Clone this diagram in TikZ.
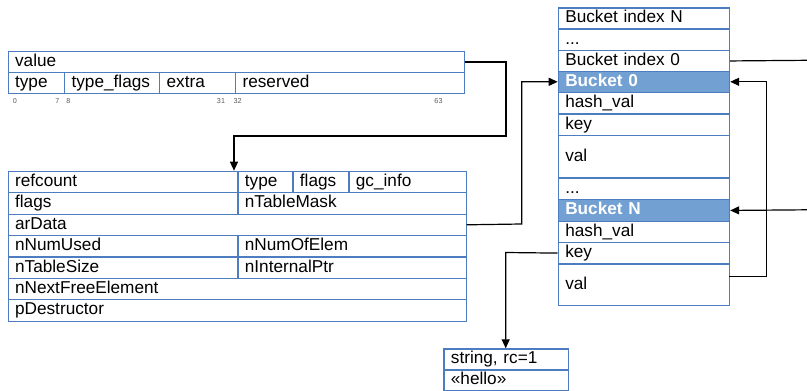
\documentclass[tikz,border=0pt]{standalone}
\usepackage{fontspec}
\setmainfont{Liberation Sans}
\usetikzlibrary{arrows.meta,calc}
\definecolor{cellblue}{RGB}{78,124,192}
\definecolor{cellfill}{RGB}{114,160,211}
\definecolor{bitgray}{RGB}{90,90,90}
\newcommand\mkcell[7][]{%
  \pgfmathsetmacro\cw{#5-#3-14}%
  \pgfmathsetmacro\ch{#6-#4}%
  \node[cell,#1,text width=\cw pt,minimum height=\ch pt] (#2) at (#3,#4) {#7};}
\begin{document}
\begin{tikzpicture}[x=1pt,y=-1pt,
  cell/.style={draw=cellblue,line width=1.2pt,anchor=north west,inner xsep=7pt,inner ysep=0pt,
    align=left,text height=12.5pt,text depth=3.5pt,font=\fontsize{17.2}{20}\selectfont},
  hot/.style={fill=cellfill,text=white,font=\fontsize{17.2}{20}\selectfont\bfseries},
  bit/.style={font=\fontsize{7.2}{8}\selectfont,text=bitgray,inner sep=0pt},
  conn/.style={draw=black,line width=1.2pt},
  arr/.style={conn,-{Triangle[length=9pt,width=8pt]}}]
\useasboundingbox (0,0) rectangle (807,391);
% zval
\mkcell{value}{7.5}{51}{463.5}{71.7}{value}
\mkcell{ztype}{7.5}{71.7}{64}{92.7}{type}
\mkcell{ztflags}{64}{71.7}{159}{92.7}{type\_flags}
\mkcell{zextra}{159}{71.7}{235}{92.7}{extra}
\mkcell{zres}{235}{71.7}{463.5}{92.7}{reserved}
\node[bit] (bit0) at (15,100.7) {0};
\node[bit] (bit7) at (57.3,100.7) {7};
\node[bit] (bit8) at (68.3,100.7) {8};
\node[bit] (bit31) at (221,100.7) {31};
\node[bit] (bit32) at (237.7,100.7) {32};
\node[bit] (bit63) at (438.5,100.7) {63};
% hash table
\mkcell{refcount}{7.5}{170.7}{237.3}{192.1}{refcount}
\mkcell{htype}{237.3}{170.7}{292.3}{192.1}{type}
\mkcell{hflags}{292.3}{170.7}{348.3}{192.1}{flags}
\mkcell{gcinfo}{348.3}{170.7}{465.5}{192.1}{gc\_info}
\mkcell{flags}{7.5}{192.1}{237.3}{213.5}{flags}
\mkcell{mask}{237.3}{192.1}{465.5}{213.5}{nTableMask}
\mkcell{ardata}{7.5}{213.5}{465.5}{234.9}{arData}
\mkcell{numused}{7.5}{234.9}{237.3}{256.3}{nNumUsed}
\mkcell{numelem}{237.3}{234.9}{465.5}{256.3}{nNumOfElem}
\mkcell{tsize}{7.5}{256.3}{237.3}{277.7}{nTableSize}
\mkcell{iptr}{237.3}{256.3}{465.5}{277.7}{nInternalPtr}
\mkcell{nextfree}{7.5}{277.7}{465.5}{299.1}{nNextFreeElement}
\mkcell{pdestr}{7.5}{299.1}{465.5}{320.5}{pDestructor}
% buckets
\mkcell{bidxN}{557.7}{7.3}{729}{28.3}{Bucket index N}
\mkcell{bdots1}{557.7}{28.3}{729}{50}{...}
\mkcell{bidx0}{557.7}{50}{729}{70.7}{Bucket index 0}
\mkcell[hot]{b0}{557.7}{70.7}{729}{91.7}{Bucket 0}
\mkcell{hash0}{557.7}{91.7}{729}{113.3}{hash\_val}
\mkcell{key0}{557.7}{113.3}{729}{135}{key}
\mkcell{val0}{557.7}{135}{729}{177.3}{val}
\mkcell{bdots2}{557.7}{177.3}{729}{199}{...}
\mkcell[hot]{bN}{557.7}{199}{729}{220.7}{Bucket N}
\mkcell{hashN}{557.7}{220.7}{729}{241.7}{hash\_val}
\mkcell{keyN}{557.7}{241.7}{729}{263.3}{key}
\mkcell{valN}{557.7}{263.3}{729}{305}{val}
% string
\mkcell{strhdr}{443.3}{348.3}{567.7}{369.3}{string, rc=1}
\mkcell{strval}{443.3}{369.3}{567.7}{390}{«hello»}
% connectors
\coordinate (vbend) at (506,136);
\coordinate (httop) at (234,170.7);
\draw[arr] (value.east) -| (vbend) -| (httop);
\coordinate (abend) at (521.7,224);
\draw[arr] (ardata.east) -- (abend) |- (b0.west);
\coordinate (redge1) at (807,60.3);
\draw[conn] (bidx0.east) -- (redge1);
\coordinate (redge2) at (807,209.8);
\draw[arr] (redge2) -- (bN.east);
\coordinate (vout) at (729,276.7);
\coordinate (vright) at (766.7,276.7);
\draw[arr] (vout) -- (vright) |- (b0.east);
\coordinate (kbend) at (505.7,252.5);
\coordinate (strtop) at (505.7,348.3);
\draw[arr] (keyN.west) -- (kbend) -- (strtop);
\end{tikzpicture}
\end{document}
